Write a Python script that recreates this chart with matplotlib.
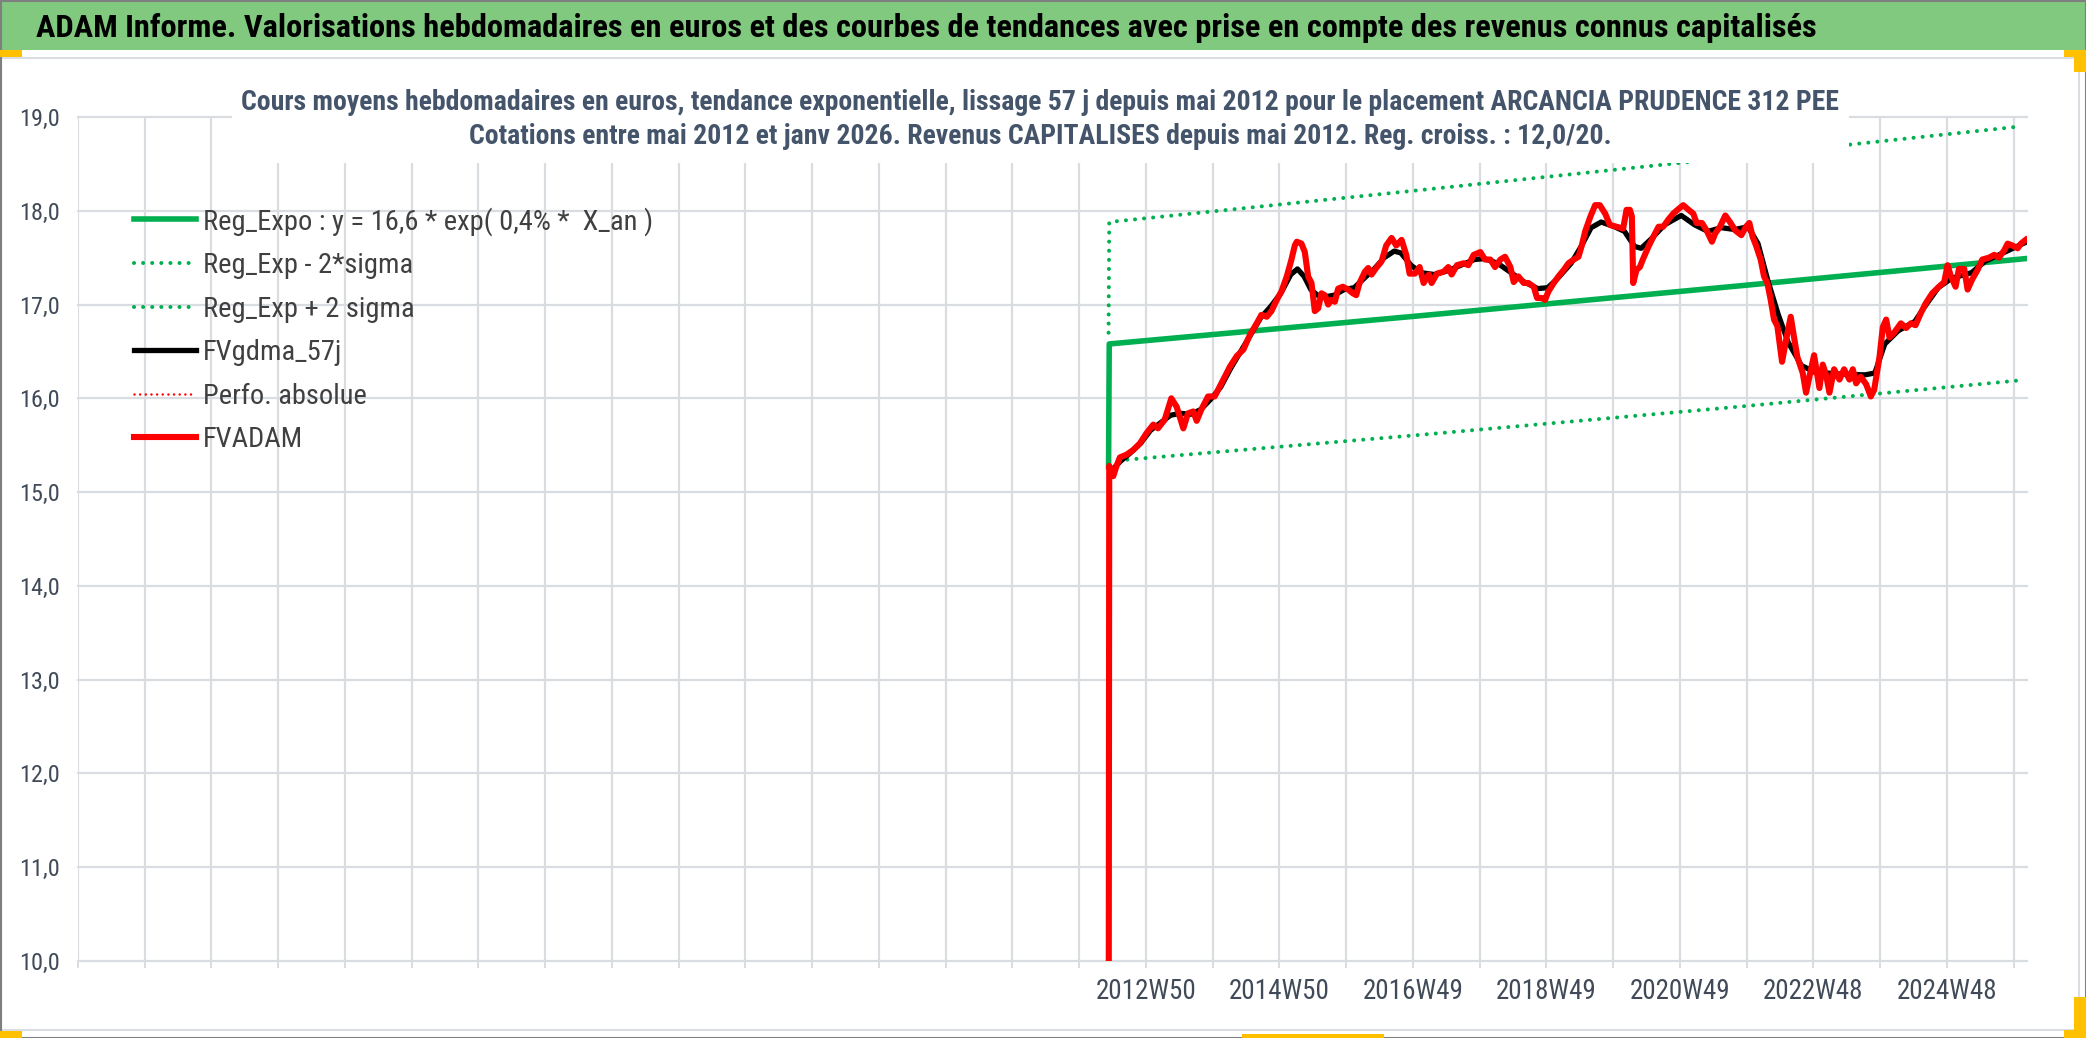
import matplotlib
matplotlib.use("Agg")
import matplotlib.pyplot as plt
from matplotlib import font_manager
from matplotlib.patches import Rectangle
from matplotlib.ticker import FuncFormatter
import numpy as np

# --- values (decimal years, euros) ---
fvadam_t = [2012.36, 2012.38, 2012.44, 2012.49, 2012.54, 2012.64, 2012.74, 2012.84, 2012.94, 2013.04,
            2013.11, 2013.21, 2013.31, 2013.39, 2013.49, 2013.56, 2013.64, 2013.69, 2013.76, 2013.86,
            2013.96, 2014.06, 2014.19, 2014.29, 2014.39, 2014.49, 2014.59, 2014.66, 2014.74, 2014.81,
            2014.89, 2014.96, 2015.04, 2015.11, 2015.16, 2015.19, 2015.26, 2015.31, 2015.36, 2015.41,
            2015.46, 2015.51, 2015.56, 2015.61, 2015.66, 2015.71, 2015.76, 2015.81, 2015.88, 2015.96,
            2016.03, 2016.08, 2016.13, 2016.21, 2016.26, 2016.31, 2016.38, 2016.46, 2016.53, 2016.61,
            2016.68, 2016.76, 2016.83, 2016.88, 2016.96, 2017.03, 2017.09, 2017.17, 2017.21, 2017.29,
            2017.39, 2017.46, 2017.51, 2017.59, 2017.69, 2017.76, 2017.84, 2017.94, 2018.01, 2018.09,
            2018.16, 2018.24, 2018.31, 2018.39, 2018.44, 2018.51, 2018.59, 2018.66, 2018.74, 2018.79,
            2018.86, 2018.91, 2018.96, 2019.04, 2019.11, 2019.19, 2019.26, 2019.34, 2019.41, 2019.46,
            2019.51, 2019.59, 2019.66, 2019.73, 2019.81, 2019.88, 2019.98, 2020.08, 2020.13, 2020.18,
            2020.21, 2020.23, 2020.28, 2020.33, 2020.38, 2020.46, 2020.53, 2020.61, 2020.68, 2020.76,
            2020.83, 2020.91, 2020.98, 2021.06, 2021.13, 2021.18, 2021.26, 2021.33, 2021.41, 2021.46,
            2021.53, 2021.61, 2021.68, 2021.76, 2021.85, 2021.92, 2021.97, 2022.02, 2022.07, 2022.14,
            2022.19, 2022.24, 2022.29, 2022.34, 2022.39, 2022.46, 2022.52, 2022.59, 2022.64, 2022.69,
            2022.77, 2022.82, 2022.87, 2022.94, 2023.02, 2023.07, 2023.12, 2023.17, 2023.24, 2023.32,
            2023.39, 2023.47, 2023.52, 2023.57, 2023.64, 2023.72, 2023.79, 2023.84, 2023.92, 2023.97,
            2024.02, 2024.07, 2024.14, 2024.24, 2024.32, 2024.39, 2024.46, 2024.54, 2024.61, 2024.71,
            2024.81, 2024.89, 2024.94, 2024.99, 2025.06, 2025.11, 2025.19, 2025.24, 2025.31, 2025.39,
            2025.46, 2025.56, 2025.64, 2025.71, 2025.79, 2025.84, 2025.91, 2025.99, 2026.04, 2026.11]
fvadam_v = [0.00, 15.28, 15.17, 15.28, 15.37, 15.40, 15.45, 15.52, 15.63, 15.72,
            15.68, 15.77, 16.00, 15.91, 15.68, 15.84, 15.86, 15.76, 15.88, 16.02,
            16.02, 16.16, 16.34, 16.45, 16.52, 16.68, 16.80, 16.89, 16.87, 16.93,
            17.05, 17.14, 17.30, 17.48, 17.63, 17.67, 17.65, 17.56, 17.30, 17.23,
            16.93, 16.96, 17.12, 17.10, 17.00, 17.05, 17.03, 17.17, 17.19, 17.16,
            17.12, 17.10, 17.23, 17.35, 17.39, 17.32, 17.39, 17.46, 17.63, 17.71,
            17.63, 17.69, 17.53, 17.33, 17.33, 17.40, 17.23, 17.32, 17.23, 17.33,
            17.35, 17.40, 17.32, 17.42, 17.44, 17.42, 17.53, 17.56, 17.48, 17.48,
            17.40, 17.48, 17.51, 17.40, 17.24, 17.30, 17.23, 17.23, 17.19, 17.07,
            17.07, 17.05, 17.14, 17.23, 17.30, 17.37, 17.44, 17.48, 17.51, 17.63,
            17.78, 17.94, 18.06, 18.06, 17.97, 17.85, 17.83, 17.81, 18.01, 18.01,
            17.94, 17.23, 17.37, 17.40, 17.49, 17.62, 17.72, 17.83, 17.83, 17.91,
            17.97, 18.02, 18.06, 18.01, 17.97, 17.87, 17.87, 17.79, 17.67, 17.76,
            17.83, 17.95, 17.88, 17.79, 17.74, 17.83, 17.87, 17.72, 17.63, 17.48,
            17.30, 17.23, 17.05, 16.84, 16.77, 16.39, 16.62, 16.87, 16.65, 16.44,
            16.27, 16.06, 16.23, 16.46, 16.11, 16.36, 16.25, 16.06, 16.31, 16.20,
            16.31, 16.20, 16.31, 16.16, 16.23, 16.15, 16.02, 16.09, 16.44, 16.76,
            16.84, 16.65, 16.70, 16.80, 16.75, 16.80, 16.78, 16.91, 17.01, 17.12,
            17.19, 17.24, 17.42, 17.30, 17.19, 17.38, 17.38, 17.16, 17.27, 17.37,
            17.48, 17.50, 17.53, 17.50, 17.58, 17.65, 17.63, 17.60, 17.65, 17.69]

gdma_t = [2012.40, 2012.55, 2012.70, 2012.85, 2013.00, 2013.15, 2013.30, 2013.45, 2013.60, 2013.75,
          2013.90, 2014.05, 2014.20, 2014.35, 2014.50, 2014.65, 2014.80, 2014.95, 2015.10, 2015.20,
          2015.30, 2015.40, 2015.50, 2015.60, 2015.75, 2015.90, 2016.05, 2016.20, 2016.35, 2016.50,
          2016.65, 2016.75, 2016.90, 2017.05, 2017.25, 2017.45, 2017.65, 2017.85, 2018.00, 2018.20,
          2018.40, 2018.60, 2018.80, 2018.95, 2019.10, 2019.30, 2019.45, 2019.60, 2019.75, 2019.95,
          2020.10, 2020.25, 2020.35, 2020.50, 2020.70, 2020.95, 2021.15, 2021.35, 2021.55, 2021.75,
          2021.95, 2022.10, 2022.25, 2022.40, 2022.55, 2022.75, 2022.95, 2023.30, 2023.70, 2023.85,
          2024.00, 2024.20, 2024.45, 2024.60, 2024.80, 2025.00, 2025.30, 2025.50, 2025.80, 2026.10]
gdma_v = [15.22, 15.33, 15.42, 15.52, 15.66, 15.74, 15.82, 15.84, 15.83, 15.88,
          15.99, 16.12, 16.32, 16.50, 16.68, 16.86, 16.98, 17.12, 17.32, 17.38,
          17.30, 17.16, 17.10, 17.08, 17.10, 17.16, 17.18, 17.28, 17.38, 17.50,
          17.57, 17.55, 17.42, 17.34, 17.32, 17.36, 17.42, 17.48, 17.49, 17.44,
          17.34, 17.24, 17.17, 17.18, 17.28, 17.44, 17.62, 17.82, 17.88, 17.83,
          17.78, 17.62, 17.60, 17.70, 17.85, 17.95, 17.85, 17.78, 17.82, 17.80,
          17.83, 17.65, 17.25, 16.90, 16.60, 16.35, 16.28, 16.26, 16.25, 16.27,
          16.58, 16.72, 16.82, 16.98, 17.18, 17.28, 17.34, 17.46, 17.56, 17.66]

reg_t = [2012.37, 2012.38, 2017.03, 2021.83, 2026.11]
reg_v = [15.27, 16.58, 16.88, 17.20, 17.49]
low_t = [2012.38, 2017.03, 2021.80, 2026.00]
low_v = [15.33, 15.61, 15.91, 16.19]
up_t = [2012.37, 2012.38, 2017.03, 2021.06, 2023.53, 2026.04]
up_v = [16.70, 17.88, 18.22, 18.52, 18.71, 18.90]

tick_years = [2012.93, 2014.93, 2016.93, 2018.93, 2020.93, 2022.93, 2024.93]
tick_labels = ["2012W50", "2014W50", "2016W49", "2018W49", "2020W49", "2022W48", "2024W48"]

title = ("ADAM Informe. Valorisations hebdomadaires en euros et des courbes de tendances "
         "avec prise en compte des revenus connus capitalisés")
sub1 = ("Cours moyens hebdomadaires en euros, tendance exponentielle, lissage 57 j depuis mai 2012 "
        "pour le placement ARCANCIA PRUDENCE 312 PEE")
sub2 = "Cotations entre mai 2012 et janv 2026. Revenus CAPITALISES depuis mai 2012. Reg. croiss. : 12,0/20."

# pick a narrow face if there is one
names = {f.name for f in font_manager.fontManager.ttflist}
narrow = next((n for n in ["Liberation Sans Narrow", "Roboto Condensed", "Open Sans Condensed",
                           "DejaVu Sans Condensed"] if n in names), "Liberation Sans")
plt.rcParams["font.family"] = [narrow, "DejaVu Sans"]

W, H = 2086, 1038
fig = plt.figure(figsize=(W / 100, H / 100), dpi=100)
fig.patch.set_facecolor("white")

GREEN = "#00B050"
GRID = "#D9DCE1"
TXT = "#404A58"

ax = fig.add_axes([78 / W, 1 - 961 / H, (2027 - 78) / W, (961 - 117) / H])
ax.set_xlim(1996.93, 2026.13)
ax.set_ylim(10, 19)

dots = dict(linestyle=(0, (0.01, 2.25)), dash_capstyle="round")
l_reg, = ax.plot(reg_t, reg_v, color=GREEN, lw=4.0, label="Reg_Expo : y = 16,6 * exp( 0,4% *  X_an )", zorder=2)
l_low, = ax.plot(low_t, low_v, color=GREEN, lw=2.9, label="Reg_Exp - 2*sigma", zorder=2, **dots)
l_up, = ax.plot(up_t, up_v, color=GREEN, lw=2.9, label="Reg_Exp + 2 sigma", zorder=2, **dots)
l_gdma, = ax.plot(gdma_t, gdma_v, color="black", lw=3.8, label="FVgdma_57j", zorder=3)
l_perf, = ax.plot([], [], color="red", lw=1.8, label="Perfo. absolue", **dots)
l_fv, = ax.plot(fvadam_t, fvadam_v, color="red", lw=4.4, label="FVADAM", zorder=4)

for s in ax.spines.values():
    s.set_visible(False)
ax.set_yticks(np.arange(10, 20))
ax.yaxis.set_major_formatter(FuncFormatter(lambda v, p: f"{v:.1f}".replace(".", ",")))
ax.set_xticks(tick_years)
ax.set_xticklabels(tick_labels)
ax.set_xticks(np.arange(1996.93, 2026.0, 1.0), minor=True)
ax.grid(True, which="both", color=GRID, lw=1.6)
ax.tick_params(axis="y", length=0, pad=13, labelsize=17.5, labelcolor=TXT)
ax.tick_params(axis="x", which="both", length=5, width=1.4, color=GRID, direction="out",
               pad=7, labelsize=19.5, labelcolor=TXT)
for gl in ax.get_xgridlines() + ax.get_ygridlines():
    gl.set_clip_on(False)

leg = ax.legend(handles=[l_reg, l_low, l_up, l_gdma, l_perf, l_fv], loc="upper left",
                bbox_to_anchor=(134 / W, 1 - 207 / H), bbox_transform=fig.transFigure,
                frameon=False, fontsize=20.5, handlelength=2.18, handletextpad=0.25,
                labelspacing=0.58, borderpad=0, borderaxespad=0)
for t in leg.get_texts():
    t.set_color("#404040")

# frame pieces of the sheet
fig.patches.append(Rectangle((0, 1 - 50 / H), 1, 48 / H, transform=fig.transFigure,
                             facecolor="#80C97F", edgecolor="none", zorder=1))
fig.patches.append(Rectangle((1 / W, 1 - 1030 / H), 2078 / W, (1030 - 58) / H, transform=fig.transFigure,
                             facecolor="none", edgecolor="#D9DCE1", lw=1.5, zorder=1))
fig.patches.append(Rectangle((0.5 / W, 0.5 / H), 1 - 1 / W, 1 - 1 / H, transform=fig.transFigure,
                             facecolor="none", edgecolor="#7F7F7F", lw=1.5, zorder=1))
for x0, y0, w, h in [(0, 50, 22, 7), (2064, 50, 22, 7), (2074, 50, 12, 22),
                     (2064, 1030, 22, 8), (2074, 997, 12, 40), (0, 1031, 22, 7), (1242, 1034, 142, 4)]:
    fig.patches.append(Rectangle((x0 / W, 1 - (y0 + h) / H), w / W, h / H, transform=fig.transFigure,
                                 facecolor="#FFC000", edgecolor="none", zorder=2))
# white title box of the chart, covering the plot like the original
fig.patches.append(Rectangle((232 / W, 1 - 163 / H), (1849 - 232) / W, (163 - 64) / H,
                             transform=fig.transFigure, facecolor="white", edgecolor="none", zorder=1))

t0 = fig.text(36 / W, 1 - 28 / H, title, ha="left", va="center", fontsize=22, weight="bold", color="black")
t1 = fig.text(1040 / W, 1 - 102 / H, sub1, ha="center", va="center", fontsize=17, weight="bold", color="#44546A")
t2 = fig.text(1040 / W, 1 - 137 / H, sub2, ha="center", va="center", fontsize=17, weight="bold", color="#44546A")

fig.canvas.draw()
r = fig.canvas.get_renderer()
for txt, target in [(t0, 1812 - 36), (t1, 1843 - 238)]:
    w = txt.get_window_extent(renderer=r).width
    txt.set_fontsize(txt.get_fontsize() * target / w)
t2.set_fontsize(t1.get_fontsize())

fig.savefig("out.png", dpi=100, facecolor="white")
